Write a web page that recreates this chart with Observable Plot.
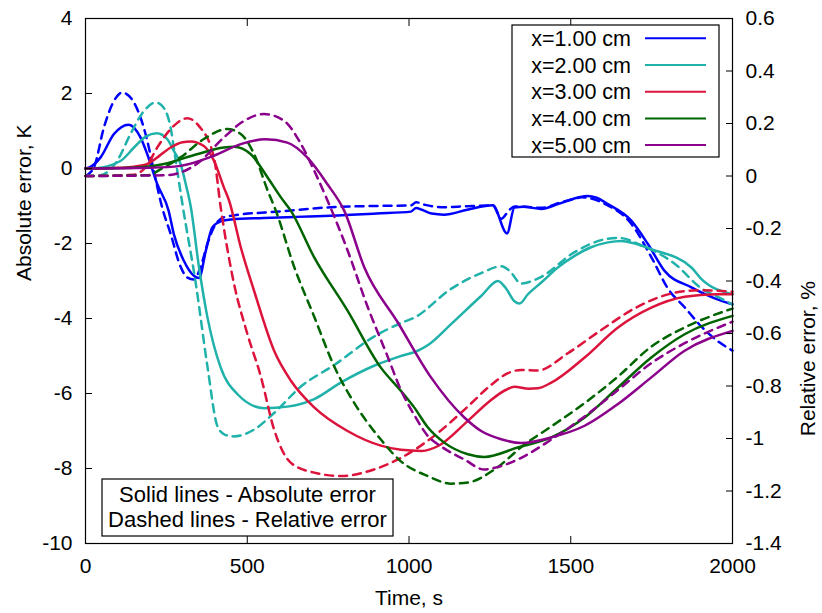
<!DOCTYPE html>
<html>
<head>
<meta charset="utf-8">
<script src="https://cdn.jsdelivr.net/npm/d3@7"></script>
<script src="https://cdn.jsdelivr.net/npm/@observablehq/plot@0.6"></script>
<style>
  html, body { margin: 0; padding: 0; background: white; }
  svg text { font-family: "Liberation Sans", Arial, sans-serif; }
</style>
</head>
<body>
<div id="chart"></div>
<script>
// ---- data (time in s; absolute error in K; relative error in %) ----
const xTicks = [0, 500, 1000, 1500, 2000];
const yTicks = [-10, -8, -6, -4, -2, 0, 2, 4];
const y2Ticks = [0.6, 0.4, 0.2, 0, -0.2, -0.4, -0.6, -0.8, -1, -1.2, -1.4];

const seriesLabels = ["x=1.00 cm", "x=2.00 cm", "x=3.00 cm", "x=4.00 cm", "x=5.00 cm"];
const seriesColors = ["#0000ff", "#20b2aa", "#dc143c", "#006400", "#8b008b"];

const x1Abs = [[0,0],[10,0.02],[46,0.29],[88,0.92],[133,1.17],[170,0.83],[191,0.38],[222,-0.42],[257,-1.13],[273,-1.75],[304,-2.46],[335,-2.86],[351,-2.92],[372,-2.19],[392,-1.57],[418,-1.41],[450,-1.36],[550,-1.32],[650,-1.29],[759,-1.26],[900,-1.2],[1006,-1.15],[1022,-1.05],[1040,-1.1],[1070,-1.2],[1108,-1.23],[1180,-1.1],[1259,-0.98],[1303,-1.73],[1326,-1.04],[1356,-1.02],[1409,-1.08],[1460,-0.95],[1520,-0.78],[1553,-0.73],[1580,-0.78],[1615,-0.95],[1687,-1.39],[1739,-2.02],[1790,-2.73],[1873,-3.17],[1966,-3.53],[2000,-3.62]];
const x1Rel = [[0,0],[26,0.033],[57,0.185],[88,0.286],[113,0.318],[143,0.293],[170,0.223],[191,0.134],[211,0.02],[237,-0.12],[263,-0.22],[294,-0.346],[315,-0.387],[335,-0.394],[356,-0.346],[377,-0.258],[397,-0.195],[428,-0.157],[460,-0.15],[600,-0.135],[759,-0.119],[900,-0.114],[1006,-0.112],[1022,-0.1],[1050,-0.11],[1100,-0.119],[1180,-0.115],[1259,-0.112],[1285,-0.163],[1310,-0.13],[1326,-0.116],[1409,-0.121],[1470,-0.1],[1512,-0.087],[1532,-0.081],[1560,-0.085],[1605,-0.106],[1687,-0.182],[1749,-0.309],[1801,-0.43],[1852,-0.5],[1904,-0.574],[1950,-0.625],[2000,-0.665]];

const x2Abs = [[0,0],[31,0.01],[108,0.2],[150,0.56],[186,0.85],[220,0.94],[253,0.78],[273,0.47],[294,0.12],[310,-0.42],[325,-1.0],[351,-2.64],[377,-3.97],[418,-5.31],[470,-6.02],[552,-6.39],[624,-6.35],[707,-6.15],[789,-5.71],[892,-5.26],[975,-5.0],[1027,-4.86],[1060,-4.7],[1130,-4.15],[1223,-3.4],[1275,-3.0],[1300,-3.2],[1326,-3.54],[1342,-3.6],[1367,-3.36],[1409,-3.04],[1460,-2.64],[1512,-2.33],[1563,-2.1],[1615,-1.97],[1656,-1.93],[1698,-2.0],[1749,-2.15],[1873,-2.64],[1904,-2.95],[2000,-3.35]];
const x2Rel = [[0,0],[46,0.003],[98,0.058],[139,0.16],[181,0.248],[217,0.28],[237,0.267],[263,0.185],[279,0.058],[300,-0.11],[341,-0.41],[377,-0.726],[408,-0.954],[430,-0.985],[459,-0.992],[521,-0.966],[583,-0.903],[666,-0.802],[769,-0.72],[892,-0.612],[975,-0.56],[1016,-0.54],[1130,-0.43],[1223,-0.37],[1285,-0.344],[1310,-0.36],[1347,-0.41],[1380,-0.4],[1409,-0.384],[1512,-0.29],[1615,-0.239],[1650,-0.236],[1718,-0.264],[1821,-0.334],[1904,-0.428],[1970,-0.47],[2000,-0.49]];

const x3Abs = [[0,0],[100,0.02],[150,0.05],[191,0.12],[230,0.35],[263,0.56],[300,0.7],[325,0.72],[366,0.6],[397,0.21],[428,-0.51],[444,-0.86],[480,-2.1],[521,-3.26],[583,-4.86],[635,-5.66],[707,-6.37],[810,-7.0],[913,-7.39],[975,-7.5],[1040,-7.53],[1090,-7.4],[1182,-6.73],[1250,-6.2],[1300,-5.9],[1326,-5.82],[1370,-5.87],[1398,-5.86],[1440,-5.71],[1543,-5.04],[1646,-4.24],[1749,-3.71],[1852,-3.42],[1950,-3.35],[2000,-3.35]];
const x3Rel = [[0,0],[150,0.005],[190,0.04],[222,0.109],[273,0.191],[314,0.22],[351,0.19],[397,0.071],[418,-0.12],[459,-0.41],[500,-0.6],[542,-0.764],[583,-0.966],[635,-1.093],[707,-1.13],[789,-1.143],[892,-1.118],[975,-1.074],[1078,-0.99],[1182,-0.878],[1250,-0.8],[1306,-0.751],[1347,-0.739],[1398,-0.741],[1491,-0.675],[1594,-0.587],[1698,-0.504],[1821,-0.445],[1904,-0.435],[2000,-0.441]];

const x4Abs = [[0,0],[150,0.02],[242,0.12],[344,0.38],[428,0.56],[459,0.58],[511,0.38],[563,-0.24],[604,-0.77],[635,-1.13],[707,-2.37],[810,-3.79],[913,-5.31],[975,-5.93],[1016,-6.37],[1058,-6.9],[1109,-7.31],[1182,-7.62],[1233,-7.69],[1336,-7.44],[1440,-7.17],[1543,-6.64],[1646,-5.84],[1749,-5.04],[1852,-4.42],[2000,-3.93]];
const x4Rel = [[0,0],[191,0.003],[242,0.033],[294,0.071],[366,0.141],[438,0.179],[480,0.16],[521,0.084],[563,-0.055],[588,-0.131],[645,-0.346],[707,-0.536],[769,-0.726],[831,-0.865],[913,-1.004],[975,-1.087],[1058,-1.143],[1130,-1.172],[1182,-1.168],[1264,-1.118],[1357,-1.023],[1440,-0.954],[1543,-0.865],[1646,-0.764],[1749,-0.65],[1852,-0.577],[2000,-0.505]];

const x5Abs = [[0,0],[200,0.02],[294,0.07],[397,0.34],[480,0.65],[557,0.78],[624,0.69],[686,0.29],[748,-0.42],[800,-1.13],[862,-2.64],[965,-4.1],[1068,-5.57],[1171,-6.64],[1223,-7.0],[1285,-7.22],[1347,-7.32],[1440,-7.17],[1543,-6.86],[1646,-6.28],[1749,-5.57],[1852,-4.86],[2000,-4.33]];
const x5Rel = [[0,0],[250,0.003],[344,0.046],[428,0.147],[490,0.21],[552,0.236],[614,0.21],[666,0.122],[707,0.02],[748,-0.093],[810,-0.283],[872,-0.498],[934,-0.688],[975,-0.815],[1016,-0.91],[1058,-0.99],[1099,-1.03],[1171,-1.08],[1233,-1.118],[1270,-1.11],[1336,-1.08],[1440,-1.004],[1543,-0.916],[1646,-0.815],[1749,-0.713],[1852,-0.637],[2000,-0.555]];

const absSeries = [x1Abs, x2Abs, x3Abs, x4Abs, x5Abs];
const relSeries = [x1Rel, x2Rel, x3Rel, x4Rel, x5Rel];

const xLabel = "Time, s";
const yLabel = "Absolute error, K";
const y2Label = "Relative error, %";
const noteLines = ["Solid lines - Absolute error", "Dashed lines - Relative error"];

// ---- second axis mapping: relative [-1.4, 0.6] onto absolute [-10, 4] ----
const Y_DOMAIN = [-10, 4];
const Y2_DOMAIN = [-1.4, 0.6];
const k = (Y_DOMAIN[1] - Y_DOMAIN[0]) / (Y2_DOMAIN[1] - Y2_DOMAIN[0]);
const relToAbs = r => Y_DOMAIN[0] + (r - Y2_DOMAIN[0]) * k;
const absToRel = a => Y2_DOMAIN[0] + (a - Y_DOMAIN[0]) / k;

const W = 822, H = 613;
const M = {left: 85, right: 90, top: 18, bottom: 70};
const FONT = 21;
const LW = 2.5;

const lineMarks = [];
absSeries.forEach((s, i) => {
  lineMarks.push(Plot.line(s, {x: d => d[0], y: d => d[1], stroke: seriesColors[i], strokeWidth: LW, curve: "monotone-x"}));
  lineMarks.push(Plot.line(relSeries[i], {x: d => d[0], y: d => relToAbs(d[1]), stroke: seriesColors[i], strokeWidth: LW, strokeDasharray: "8,6", curve: "monotone-x"}));
});

const chart = Plot.plot({
  width: W, height: H,
  marginLeft: M.left, marginRight: M.right, marginTop: M.top, marginBottom: M.bottom,
  style: {fontFamily: "Liberation Sans, Arial, sans-serif", fontSize: FONT + "px", background: "white", color: "black", overflow: "visible"},
  x: {domain: [0, 2000]},
  y: {domain: Y_DOMAIN},
  marks: [
    ...lineMarks,
    Plot.axisX(xTicks, {anchor: "bottom", tickSize: -7, tickPadding: 22, tickFormat: d => String(d), fontSize: FONT, label: null, stroke: "black"}),
    Plot.axisX(xTicks, {anchor: "top", tickSize: -7, tickFormat: () => "", label: null, stroke: "black"}),
    Plot.axisY(yTicks, {anchor: "left", tickSize: -7, tickPadding: 20, tickFormat: d => String(d), fontSize: FONT, label: null, stroke: "black"}),
    Plot.axisY(y2Ticks.map(relToAbs), {anchor: "right", tickSize: -7, tickPadding: 20, tickFormat: v => String(Math.round(absToRel(v) * 10) / 10 || 0), fontSize: FONT, label: null, stroke: "black"}),
    Plot.frame({stroke: "black", strokeWidth: 1.2}),
    Plot.text([xLabel], {text: d => d, frameAnchor: "bottom", dy: 55, fontSize: FONT, lineAnchor: "middle", fill: "black"}),
    Plot.text([yLabel], {text: d => d, frameAnchor: "left", dx: -61, rotate: -90, fontSize: FONT, lineAnchor: "middle", fill: "black"}),
    Plot.text([y2Label], {text: d => d, frameAnchor: "right", dx: 76, rotate: -90, fontSize: FONT, lineAnchor: "middle", fill: "black"})
  ]
});

document.getElementById("chart").appendChild(chart);

// ---- legend (top right) and note box (bottom left), drawn over the plot ----
const svg = d3.select(chart);
const leg = svg.append("g").attr("class", "legend");
const legBox = {x: 512, y: 25, w: 207, h: 132};
leg.append("rect").attr("x", legBox.x).attr("y", legBox.y).attr("width", legBox.w).attr("height", legBox.h)
  .attr("fill", "white").attr("stroke", "black").attr("stroke-width", 1.2);
seriesLabels.forEach((lab, i) => {
  const cy = legBox.y + 13.3 + i * 26.7;
  leg.append("text").attr("x", legBox.x + 119).attr("y", cy).attr("dy", "0.35em")
    .attr("text-anchor", "end").attr("font-size", 21.5).attr("fill", "black").text(lab);
  leg.append("line").attr("x1", legBox.x + 133).attr("x2", legBox.x + 194).attr("y1", cy).attr("y2", cy)
    .attr("stroke", seriesColors[i]).attr("stroke-width", 2);
});

const note = svg.append("g").attr("class", "note");
const noteBox = {x: 102, y: 479, w: 291, h: 57};
note.append("rect").attr("x", noteBox.x).attr("y", noteBox.y).attr("width", noteBox.w).attr("height", noteBox.h)
  .attr("fill", "white").attr("stroke", "black").attr("stroke-width", 1.2);
noteLines.forEach((t, i) => {
  note.append("text").attr("x", noteBox.x + noteBox.w / 2).attr("y", noteBox.y + 23 + i * 24.5)
    .attr("text-anchor", "middle").attr("font-size", 22).attr("fill", "black").text(t);
});
</script>
</body>
</html>
